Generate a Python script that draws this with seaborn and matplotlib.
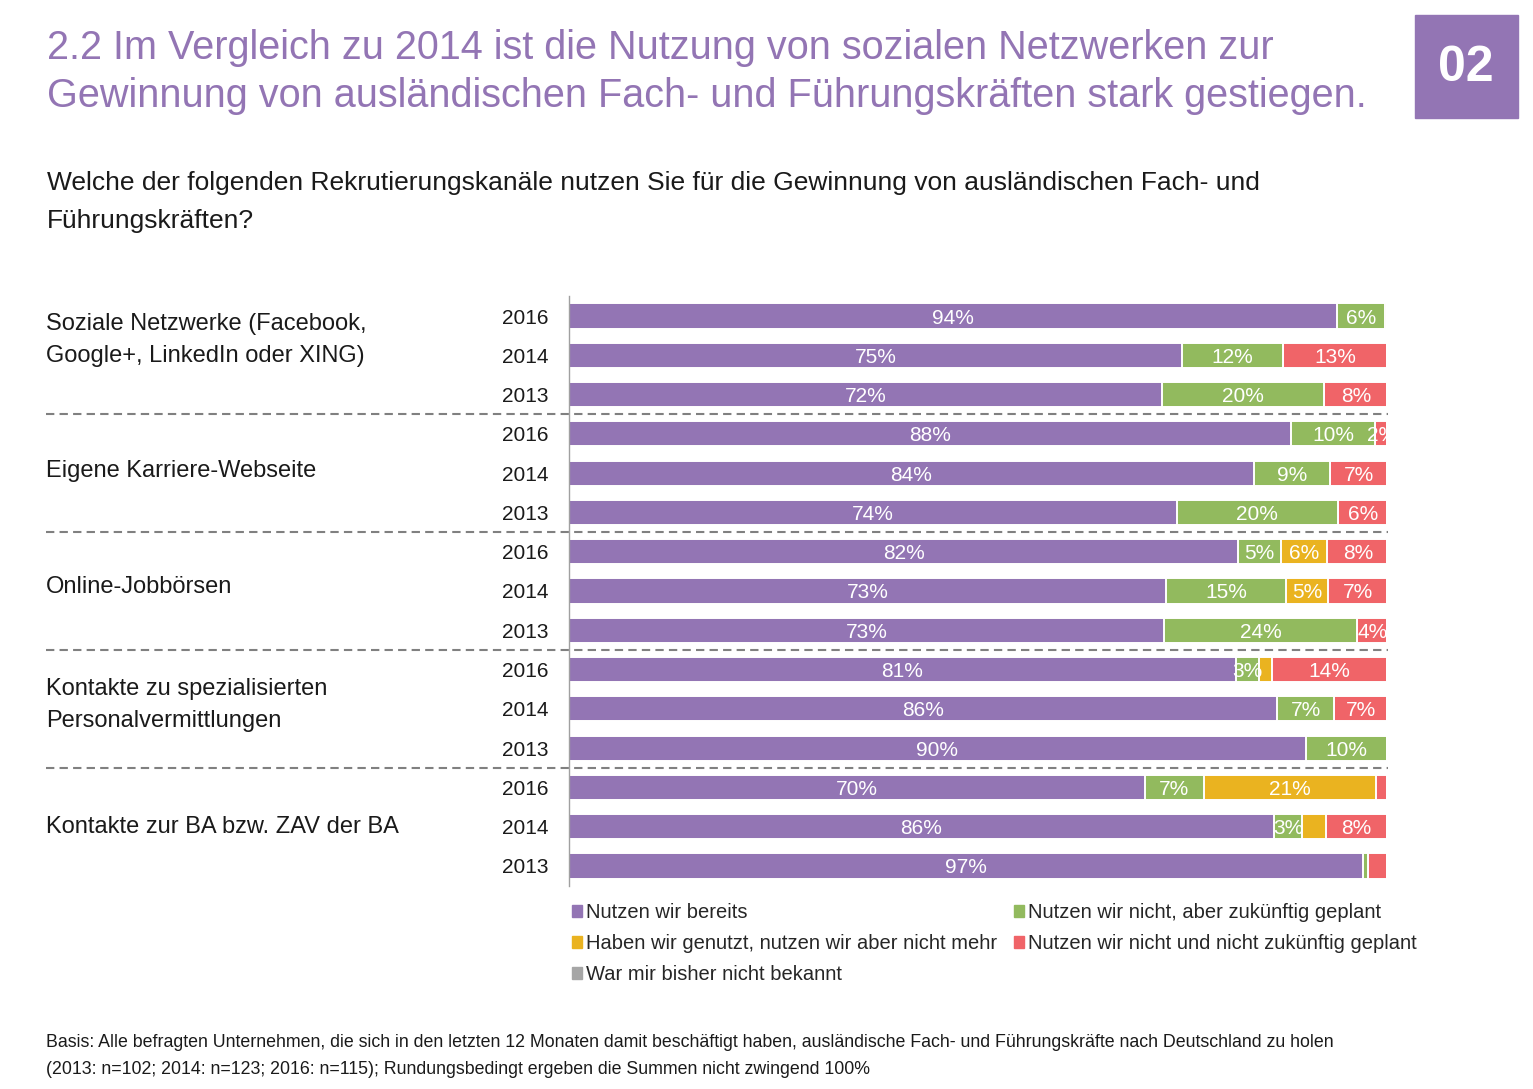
import numpy as np
import pandas as pd
import matplotlib.pyplot as plt
import matplotlib.transforms as mtransforms
from matplotlib.patches import Patch, Rectangle
import seaborn as sns

# Data (rows: 2016, 2014, 2013 per channel)
channels = ["Soziale Netzwerke (Facebook,\nGoogle+, LinkedIn oder XING)",
            "Eigene Karriere-Webseite",
            "Online-Jobbörsen",
            "Kontakte zu spezialisierten\nPersonalvermittlungen",
            "Kontakte zur BA bzw. ZAV der BA"]
years = ["2016", "2014", "2013"]

series_names = ["Nutzen wir bereits",
                "Nutzen wir nicht, aber zukünftig geplant",
                "Haben wir genutzt, nutzen wir aber nicht mehr",
                "Nutzen wir nicht und nicht zukünftig geplant",
                "War mir bisher nicht bekannt"]

nutzen_bereits = [94.0, 75.0, 72.6, 88.4, 83.8, 74.4, 81.9, 73.1, 72.8, 81.6, 86.7, 90.2, 70.5, 86.3, 97.2]
geplant        = [5.9, 12.4, 19.8, 10.3, 9.4, 19.7, 5.3, 14.7, 23.7, 2.8, 6.9, 10.0, 7.2, 3.4, 0.6]
nicht_mehr     = [0.3, 0.0, 0.0, 0.0, 0.0, 0.0, 5.6, 5.1, 0.0, 1.6, 0.0, 0.0, 21.1, 2.9, 0.0]
nicht_geplant  = [0.0, 12.9, 7.8, 1.6, 7.0, 6.1, 7.5, 7.3, 3.8, 14.2, 6.7, 0.0, 1.5, 7.6, 2.4]
unbekannt      = [0.0] * 15

# bar labels as printed in the chart ("" = no label)
lab_bereits  = ["94%", "75%", "72%", "88%", "84%", "74%", "82%", "73%", "73%", "81%", "86%", "90%", "70%", "86%", "97%"]
lab_geplant  = ["6%", "12%", "20%", "10%", "9%", "20%", "5%", "15%", "24%", "3%", "7%", "10%", "7%", "3%", ""]
lab_nmehr    = ["", "", "", "", "", "", "6%", "5%", "", "", "", "", "21%", "", ""]
lab_ngeplant = ["", "13%", "8%", "2%", "7%", "6%", "8%", "7%", "4%", "14%", "7%", "", "", "8%", ""]
lab_unbek    = [""] * 15

colors = ["#9375B4", "#92BA5E", "#EAB320", "#F06468", "#A6A6A6"]
purple = "#9375B4"

values = [nutzen_bereits, geplant, nicht_mehr, nicht_geplant, unbekannt]
labels = [lab_bereits, lab_geplant, lab_nmehr, lab_ngeplant, lab_unbek]

row_ids = [f"{c.splitlines()[0]} {y}" for c in channels for y in years]
row_years = [y for c in channels for y in years]

sns.set_theme(style="white")
plt.rcParams['font.family'] = ['Liberation Sans', 'DejaVu Sans']

W, H = 1533, 1089
fig = plt.figure(figsize=(W / 100, H / 100), dpi=100)
ax = fig.add_axes([569 / W, 1 - 885.6 / H, (1386 - 569) / W, (885.6 - 296.4) / H])

# stacked bars: overlay cumulative totals, longest first
cum = np.cumsum(np.array(values), axis=0)
for k in range(len(values) - 1, -1, -1):
    df = pd.DataFrame({"row": row_ids, "val": cum[k]})
    sns.barplot(data=df, x="val", y="row", order=row_ids, orient="h",
                color=colors[k], saturation=1, width=0.64, errorbar=None,
                edgecolor="white", linewidth=1.4, ax=ax)

for k in range(len(values)):
    start = cum[k] - np.array(values[k])
    for i, txt in enumerate(labels[k]):
        if txt:
            ax.text(start[i] + values[k][i] / 2, i + 0.05, txt, ha="center", va="center",
                    color="white", fontsize=15)

ax.set_xlim(0, 100)
ax.set_ylim(14.5, -0.5)
ax.set_xlabel("")
ax.set_ylabel("")
ax.set_xticks([])
ax.set_yticks(range(len(row_ids)))
ax.set_yticklabels(row_years, fontsize=15, color="#1a1a1a")
ax.tick_params(axis="y", length=0, pad=15)
for s in ["top", "right", "bottom"]:
    ax.spines[s].set_visible(False)
ax.spines["left"].set_color("#A0A0A0")
ax.spines["left"].set_linewidth(1)

# group separators and channel labels
blend = mtransforms.blended_transform_factory(fig.transFigure, ax.transData)
for b in [2.5, 5.5, 8.5, 11.5]:
    ax.plot([46 / W, 1388 / W], [b, b], transform=blend, color="#808080",
            lw=1.5, ls=(0, (4, 2.5)), clip_on=False)
offsets = [-0.38, -0.05, -0.1, -0.09, 0]
for g, name in enumerate(channels):
    ax.text(46 / W, g * 3 + 1 + offsets[g], name, transform=blend, ha="left",
            va="center", fontsize=17, color="#1a1a1a", linespacing=1.6)

# title, subtitle, badge
fig.text(47 / W, 1 - 59 / H, "2.2 Im Vergleich zu 2014 ist die Nutzung von sozialen Netzwerken zur",
         fontsize=28.5, color=purple, va="baseline")
fig.text(47 / W, 1 - 107 / H, "Gewinnung von ausländischen Fach- und Führungskräften stark gestiegen.",
         fontsize=28.5, color=purple, va="baseline")
fig.text(47 / W, 1 - 190 / H, "Welche der folgenden Rekrutierungskanäle nutzen Sie für die Gewinnung von ausländischen Fach- und",
         fontsize=19, color="#1a1a1a", va="baseline")
fig.text(47 / W, 1 - 228 / H, "Führungskräften?", fontsize=19, color="#1a1a1a", va="baseline")

fig.patches.append(Rectangle((1415 / W, 1 - 118 / H), 103 / W, 103 / H,
                             transform=fig.transFigure, color=purple))
fig.text(1466 / W, 1 - 68 / H, "02", fontsize=36, fontweight="bold", color="white",
         ha="center", va="center")

# legend (column-major order to mimic row-major layout)
order = [0, 2, 4, 1, 3]
handles = [Patch(color=colors[i], label=series_names[i]) for i in order]
fig.legend(handles=handles, loc="upper left", bbox_to_anchor=(572 / W, 1 - 903 / H),
           ncol=2, frameon=False, fontsize=14.5, handlelength=0.5, handleheight=0.5,
           handletextpad=0.2, columnspacing=0.85, labelspacing=0.6, borderaxespad=0,
           borderpad=0)

fig.text(46 / W, 1 - 1047 / H,
         "Basis: Alle befragten Unternehmen, die sich in den letzten 12 Monaten damit beschäftigt haben, ausländische Fach- und Führungskräfte nach Deutschland zu holen",
         fontsize=12.8, color="#1a1a1a", va="baseline")
fig.text(46 / W, 1 - 1074 / H,
         "(2013: n=102; 2014: n=123; 2016: n=115); Rundungsbedingt ergeben die Summen nicht zwingend 100%",
         fontsize=12.8, color="#1a1a1a", va="baseline")

fig.savefig("out.png", dpi=100)
